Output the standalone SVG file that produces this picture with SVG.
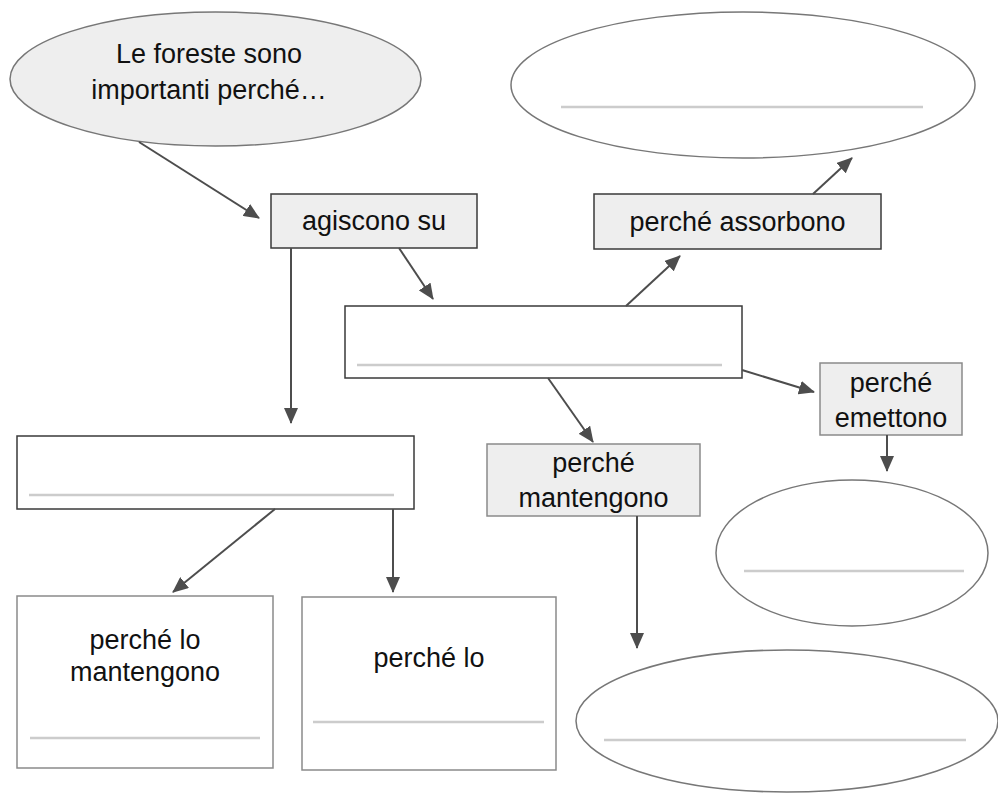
<svg xmlns="http://www.w3.org/2000/svg" width="998" height="793" viewBox="0 0 998 793">
<style>
text{font-family:"Liberation Sans",Arial,sans-serif;font-size:27px;fill:#111;text-anchor:middle}
.dk{fill:#fff;stroke:#3a3a3a;stroke-width:1.5}
.dkf{fill:#eeeeee;stroke:#3a3a3a;stroke-width:1.5}
.lt{fill:#fff;stroke:#8a8a8a;stroke-width:1.5}
.ltf{fill:#eeeeee;stroke:#8a8a8a;stroke-width:1.5}
.el{fill:#fff;stroke:#777;stroke-width:1.5}
.elf{fill:#eeeeee;stroke:#777;stroke-width:1.5}
.ul{stroke:#cccccc;stroke-width:2.5;fill:none}
.cn line{stroke:#4d4d4d;stroke-width:2;marker-end:url(#ah)}
</style>
<defs>
<marker id="ah" markerUnits="userSpaceOnUse" markerWidth="16" markerHeight="14" refX="15" refY="7" orient="auto" viewBox="0 0 16 14">
<path d="M0,0 L16,7 L0,14 z" fill="#4d4d4d"/>
</marker>
</defs>
<rect width="998" height="793" fill="#fff"/>
<g id="n-root">
<ellipse class="elf" cx="215.5" cy="79" rx="205.5" ry="67"/>
<text x="209" y="63">Le foreste sono</text>
<text x="209" y="99">importanti perché…</text>
</g>
<g id="n-agiscono">
<rect class="dkf" x="271" y="194" width="206" height="54"/>
<text x="374" y="230">agiscono su</text>
</g>
<g id="n-top-ellipse">
<ellipse class="el" cx="743" cy="85" rx="232" ry="73"/>
<line class="ul" x1="561" y1="107" x2="923" y2="107"/>
</g>
<g id="n-assorbono">
<rect class="dkf" x="594" y="194" width="287" height="55"/>
<text x="737.5" y="231">perché assorbono</text>
</g>
<g id="n-middle">
<rect class="dk" x="345" y="306" width="397" height="72"/>
<line class="ul" x1="357" y1="365" x2="722" y2="365"/>
</g>
<g id="n-emettono">
<rect class="ltf" x="820" y="363" width="142" height="72"/>
<text x="891" y="392">perché</text>
<text x="891" y="427">emettono</text>
</g>
<g id="n-mantengono">
<rect class="ltf" x="487" y="444" width="213" height="72"/>
<text x="593.5" y="472">perché</text>
<text x="593.5" y="507">mantengono</text>
</g>
<g id="n-left">
<rect class="dk" x="17" y="436" width="397" height="73"/>
<line class="ul" x1="29" y1="495" x2="394" y2="495"/>
</g>
<g id="n-right-ellipse">
<ellipse class="el" cx="852" cy="553" rx="136" ry="73"/>
<line class="ul" x1="744" y1="571" x2="964" y2="571"/>
</g>
<g id="n-bottom-ellipse">
<ellipse class="el" cx="787" cy="721" rx="211" ry="71"/>
<line class="ul" x1="604" y1="740" x2="966" y2="740"/>
</g>
<g id="n-lo-mantengono">
<rect class="lt" x="17" y="596" width="256" height="172"/>
<text x="145" y="649">perché lo</text>
<text x="145" y="681">mantengono</text>
<line class="ul" x1="30" y1="738" x2="260" y2="738"/>
</g>
<g id="n-lo">
<rect class="lt" x="302" y="597" width="254" height="173"/>
<text x="429" y="667">perché lo</text>
<line class="ul" x1="313" y1="722" x2="544" y2="722"/>
</g>
<g id="connectors" class="cn">
<line x1="139" y1="142" x2="259" y2="218"/>
<line x1="291" y1="248" x2="291" y2="423"/>
<line x1="399" y1="248" x2="433" y2="299"/>
<line x1="626" y1="306" x2="680" y2="256"/>
<line x1="813" y1="194" x2="852" y2="158"/>
<line x1="742" y1="370" x2="814" y2="392"/>
<line x1="548" y1="378" x2="593" y2="442"/>
<line x1="887" y1="435" x2="887" y2="471"/>
<line x1="275" y1="509" x2="173" y2="592"/>
<line x1="393" y1="509" x2="393" y2="592"/>
<line x1="637" y1="516" x2="637" y2="648"/>
</g>
</svg>
